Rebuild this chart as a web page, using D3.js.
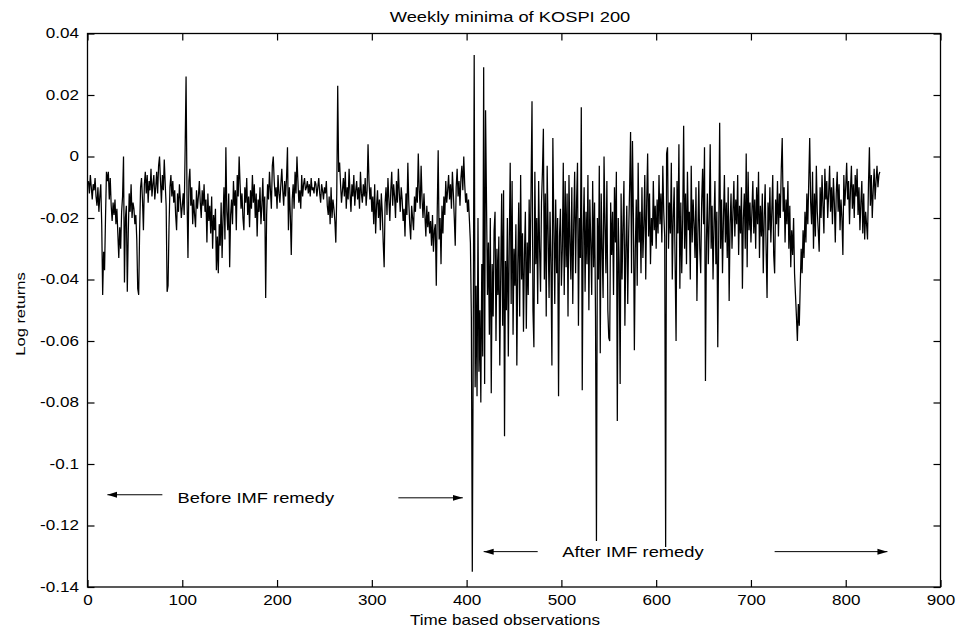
<!DOCTYPE html>
<html>
<head>
<meta charset="utf-8">
<script src="https://cdn.jsdelivr.net/npm/d3@7"></script>
<style>
	body { margin: 0; background: #fff; }
	svg text { font-family: 'Liberation Sans', Arial, Helvetica, sans-serif; fill: #000; }
</style>
</head>
<body>
<svg id="chart"></svg>
<script>
// weekly minima of KOSPI 200 log returns
// weeks 1..405 (before IMF remedy)
const beforeRemedy = [
	-.008,-.012,-.006,-.010,-.014,-.009,-.011,-.007,-.013,-.016,
	-.010,-.018,-.013,-.009,-.022,-.045,-.031,-.037,-.020,-.005,
	-.008,-.005,-.014,-.007,-.016,-.021,-.015,-.019,-.014,-.022,
	-.017,-.025,-.033,-.023,-.030,-.018,-.013,0,-.041,-.020,
	-.016,-.044,-.025,-.012,-.018,-.009,-.020,-.015,-.017,-.022,
	-.019,-.027,-.043,-.045,-.024,-.010,-.007,-.014,-.024,-.009,
	-.005,-.012,-.006,-.015,-.008,-.011,-.004,-.013,-.009,-.006,
	-.014,-.010,-.005,-.012,-.003,0,-.008,-.015,-.006,-.011,
	-.001,-.009,-.016,-.044,-.042,-.023,-.010,-.006,-.013,-.008,
	-.015,-.011,-.019,-.024,-.012,-.018,-.009,-.014,-.020,-.016,
	-.012,-.019,.002,.026,-.013,-.033,-.008,-.004,-.016,-.010,
	-.022,-.014,-.019,-.023,-.011,-.017,-.013,-.008,-.015,-.020,
	-.011,-.016,-.009,-.018,-.014,-.028,-.012,-.021,-.016,-.025,
	-.013,-.030,-.019,-.024,-.017,-.037,-.026,-.038,-.022,-.029,
	-.015,-.033,-.020,-.010,-.027,.003,-.018,-.024,-.012,-.036,
	-.019,-.014,-.022,-.008,-.016,-.011,-.024,-.006,-.013,0,
	-.009,-.017,-.012,-.020,-.024,-.010,-.015,-.007,-.019,-.013,
	-.023,-.011,-.017,-.006,-.015,-.009,-.020,-.012,-.026,-.014,
	-.018,-.010,-.022,-.016,-.007,-.021,-.013,-.046,-.019,-.009,
	-.014,-.005,-.011,-.017,-.003,0,-.008,-.013,-.010,-.017,
	-.006,-.012,-.015,-.009,-.004,-.011,-.016,-.008,-.013,-.007,
	.003,-.024,-.010,-.019,-.032,-.014,-.009,-.017,-.005,-.012,
	0,-.008,-.015,-.011,-.017,-.006,-.013,-.009,-.007,-.011,
	-.010,-.008,-.012,-.009,-.013,-.007,-.011,-.010,-.012,-.008,
	-.009,-.013,-.010,-.007,-.012,-.015,-.009,-.011,-.014,-.010,
	-.012,-.008,-.016,-.019,-.013,-.022,-.010,-.020,-.014,-.017,
	-.021,-.028,-.012,.023,-.005,-.002,-.009,-.015,-.011,-.007,
	-.013,-.005,-.017,-.010,-.014,-.004,-.012,-.018,-.009,-.013,
	-.006,-.016,-.011,-.008,-.014,-.010,-.017,-.005,-.012,-.015,
	-.009,-.013,-.007,-.016,-.011,.004,-.008,-.014,-.010,-.018,
	-.013,-.022,-.009,-.025,-.016,-.011,-.020,-.014,-.024,-.012,
	-.018,-.028,-.036,-.015,-.010,-.019,-.007,-.014,-.021,-.011,
	-.005,-.016,-.009,-.013,-.020,-.008,-.015,-.004,-.012,-.018,
	-.010,-.014,-.021,-.017,-.026,-.012,-.019,-.002,-.015,-.022,
	-.027,-.016,-.020,-.024,-.013,-.018,-.010,-.015,.001,-.011,
	-.017,-.003,-.014,-.020,-.012,-.019,-.026,-.016,-.023,-.018,
	-.025,-.021,-.029,-.019,-.031,-.024,-.022,-.042,-.018,.002,
	-.027,-.020,-.035,-.016,-.025,-.013,-.019,-.008,-.015,-.011,
	-.006,-.014,-.009,-.017,-.005,-.012,-.020,-.029,-.010,-.004,
	-.013,-.008,-.016,-.007,-.003,-.011,0,-.009,-.015,-.012,
	-.018,-.014,-.021,-.028,-.052
];

// weeks 406..836 (after IMF remedy)
const afterRemedy = [
	-.135,-.060,.033,-.075,-.042,-.078,-.020,-.070,-.050,-.080,
	-.035,-.065,.029,-.074,.015,
	-.015,-.045,-.028,-.058,-.020,-.077,-.035,-.052,-.024,-.018,
	-.060,-.030,-.045,-.026,-.068,-.038,-.012,-.055,-.011,-.091,
	-.034,-.050,-.020,-.065,-.028,-.002,-.048,-.008,-.058,-.030,
	-.042,-.022,-.068,-.035,-.015,-.052,-.006,-.040,-.025,-.057,
	-.032,-.018,-.056,-.028,-.045,-.014,-.038,-.010,.018,-.050,
	-.062,-.005,-.035,-.020,-.048,-.008,-.030,-.044,-.015,-.005,
	.009,-.040,-.012,-.052,-.003,-.025,-.046,-.018,-.035,-.068,
	.006,-.022,-.048,-.014,-.038,-.020,-.078,-.026,-.017,-.042,
	-.030,-.002,-.045,-.008,-.036,-.012,-.052,-.006,-.028,-.040,
	-.010,-.048,-.022,-.005,-.038,-.015,-.002,-.055,-.020,-.033,
	.016,-.076,-.025,-.010,-.044,-.018,-.035,-.006,-.050,-.014,
	-.028,-.045,-.008,-.036,-.015,-.052,-.125,-.020,-.040,-.003,
	-.064,-.012,-.030,-.046,0,-.022,-.038,-.008,-.050,-.059,
	-.060,-.015,-.032,-.018,-.045,-.010,-.028,-.005,-.086,-.020,
	-.035,-.074,-.012,-.040,-.022,-.008,-.055,-.030,-.016,-.048,
	-.025,-.010,.008,-.038,.005,-.020,-.063,-.030,-.014,-.042,
	-.002,-.028,-.018,-.038,-.010,-.033,-.022,-.006,-.040,-.015,
	.001,-.026,-.012,-.035,-.020,-.029,-.008,-.024,-.016,-.030,
	-.014,-.025,-.006,-.022,-.012,-.028,-.003,-.018,-.026,-.127,
	.001,.003,-.030,-.015,-.025,-.002,-.040,-.020,-.010,-.035,
	-.060,-.008,-.025,.004,-.043,-.015,-.038,-.020,.010,-.030,
	-.012,-.035,-.005,-.024,-.018,-.040,-.003,-.028,-.014,-.022,
	-.033,-.010,-.047,-.025,-.008,-.030,-.038,-.015,-.004,-.022,
	.003,-.073,-.028,-.012,-.035,-.020,.004,-.030,-.016,-.040,
	-.022,-.008,-.035,-.018,-.062,-.025,.011,-.030,-.014,-.038,
	-.020,-.006,-.028,-.015,-.033,-.010,-.047,-.022,-.012,-.030,
	-.018,-.008,-.026,-.014,-.022,-.006,-.032,-.016,-.025,-.010,
	-.043,-.020,-.012,-.030,.001,-.036,-.005,-.024,-.015,-.028,
	-.018,-.008,-.025,-.014,-.030,-.010,-.022,-.005,-.033,-.016,
	-.026,-.012,-.038,-.020,-.009,-.030,-.046,-.015,-.024,-.010,
	-.028,-.018,-.006,-.032,-.038,-.014,-.022,-.008,-.026,-.012,
	-.020,-.004,.006,-.018,-.010,-.028,-.014,-.022,-.008,-.030,
	-.016,-.036,-.024,-.032,-.020,-.038,-.045,-.052,-.060,-.048,
	-.055,-.042,-.030,-.038,-.024,-.033,-.018,-.028,-.012,-.022,
	-.008,.006,-.015,-.022,-.005,-.030,-.012,-.026,-.003,-.018,
	-.024,-.031,-.010,-.020,-.006,-.016,-.025,-.004,-.014,-.008,
	-.020,-.012,-.003,-.018,-.010,-.022,-.007,-.015,-.028,-.012,
	-.005,-.018,-.009,-.024,-.014,-.020,-.032,-.006,-.016,-.010,
	-.002,-.014,-.008,-.022,-.011,-.003,-.017,-.009,-.020,-.006,
	-.013,-.004,-.019,-.010,-.024,-.015,-.008,-.025,-.012,-.027,
	-.018,-.022,-.027,-.009,.003,-.016,-.006,-.020,-.011,-.004,
	-.014,-.008,-.003,-.010,-.006,-.005
];

const xTicks	= [0, 100, 200, 300, 400, 500, 600, 700, 800, 900];
const yTicks	= [0.04, 0.02, 0, -0.02, -0.04, -0.06, -0.08, -0.1, -0.12, -0.14];

// annotation texts and arrows, in data units
const notes		= [
	{ text: 'Before IMF remedy', x: 95, y: -0.111 },
	{ text: 'After IMF remedy', x: 501, y: -0.1285 }
];
const arrows	= [
	{ from: 79, to: 21, y: -0.110 },
	{ from: 328, to: 396, y: -0.111 },
	{ from: 475, to: 418, y: -0.1285 },
	{ from: 725, to: 844, y: -0.1285 }
];

let canvasWidth		= 958;
let canvasHeight	= 628;
let margin			= { top: 33.5, right: 17.5, bottom: 41, left: 87.5 };
let width			= canvasWidth - margin.left - margin.right;
let height			= canvasHeight - margin.top - margin.bottom;
let sx				= 1.22;	// the scanned figure is a bit wide

let series = beforeRemedy.concat(afterRemedy).map((r, i) => ({ week: i + 1, r: r }));

let x = d3.scaleLinear().domain([0, 900]).range([0, width]);
let y = d3.scaleLinear().domain([-0.14, 0.04]).range([height, 0]);

let svg = d3.select('#chart')
	.attr('width', canvasWidth)
	.attr('height', canvasHeight);

svg.append('defs').append('marker')
	.attr('id', 'head')
	.attr('markerUnits', 'userSpaceOnUse')
	.attr('markerWidth', 11)
	.attr('markerHeight', 7)
	.attr('refX', 10)
	.attr('refY', 3.5)
	.attr('orient', 'auto')
	.append('path')
		.attr('d', 'M0,0.5L10,3.5L0,6.5Z')
		.attr('fill', '#000');

let g = svg.append('g')
	.attr('transform', 'translate(' + margin.left + ',' + margin.top + ')');

function styleAxis(sel) {
	sel.select('.domain').remove();
	sel.selectAll('line').attr('stroke', '#000').attr('stroke-width', 1.2);
	sel.selectAll('text')
		.attr('font-size', 14)
		.attr('font-family', null)
		.attr('fill', '#000')
		.attr('transform', 'scale(' + sx + ',1)');
}

g.append('g')
	.attr('transform', 'translate(0,' + height + ')')
	.call(d3.axisBottom(x).tickValues(xTicks).tickSize(-7).tickSizeOuter(0).tickPadding(8).tickFormat((d) => String(d)))
	.call(styleAxis);

g.append('g')
	.call(d3.axisTop(x).tickValues(xTicks).tickSize(-7).tickSizeOuter(0).tickFormat(''))
	.call(styleAxis);

g.append('g')
	.call(d3.axisLeft(y).tickValues(yTicks).tickSize(-7).tickSizeOuter(0).tickPadding(7).tickFormat((d) => String(d)))
	.call(styleAxis);

g.append('g')
	.attr('transform', 'translate(' + width + ',0)')
	.call(d3.axisRight(y).tickValues(yTicks).tickSize(-7).tickSizeOuter(0).tickFormat(''))
	.call(styleAxis);

let lineFunc = d3.line().x((o) => x(o.week)).y((o) => y(o.r));

g.append('path')
	.datum(series)
	.attr('d', lineFunc)
	.attr('fill', 'none')
	.attr('stroke', '#000')
	.attr('stroke-width', 1.25);

g.append('rect')
	.attr('width', width)
	.attr('height', height)
	.attr('fill', 'none')
	.attr('stroke', '#000')
	.attr('stroke-width', 1.3);

g.selectAll('.arrow').data(arrows).enter()
	.append('line')
		.attr('class', 'arrow')
		.attr('x1', (o) => x(o.from))
		.attr('x2', (o) => x(o.to))
		.attr('y1', (o) => y(o.y))
		.attr('y2', (o) => y(o.y))
		.attr('stroke', '#000')
		.attr('stroke-width', 1)
		.attr('marker-end', 'url(#head)');

g.selectAll('.note').data(notes).enter()
	.append('text')
		.attr('class', 'note')
		.attr('transform', (o) => 'translate(' + x(o.x) + ',' + y(o.y) + ') scale(' + sx + ',1)')
		.attr('dy', '0.36em')
		.attr('font-size', 15)
		.text((o) => o.text);

// title and axis labels
svg.append('text')
	.attr('transform', 'translate(510,21.5) scale(' + sx + ',1)')
	.attr('text-anchor', 'middle')
	.attr('font-size', 15)
	.text('Weekly minima of KOSPI 200');

svg.append('text')
	.attr('transform', 'translate(505,625) scale(' + sx + ',1)')
	.attr('text-anchor', 'middle')
	.attr('font-size', 14)
	.text('Time based observations');

svg.append('text')
	.attr('transform', 'translate(25,314) rotate(-90) scale(1.27,1)')
	.attr('text-anchor', 'middle')
	.attr('font-size', 13)
	.text('Log returns');
</script>
</body>
</html>
